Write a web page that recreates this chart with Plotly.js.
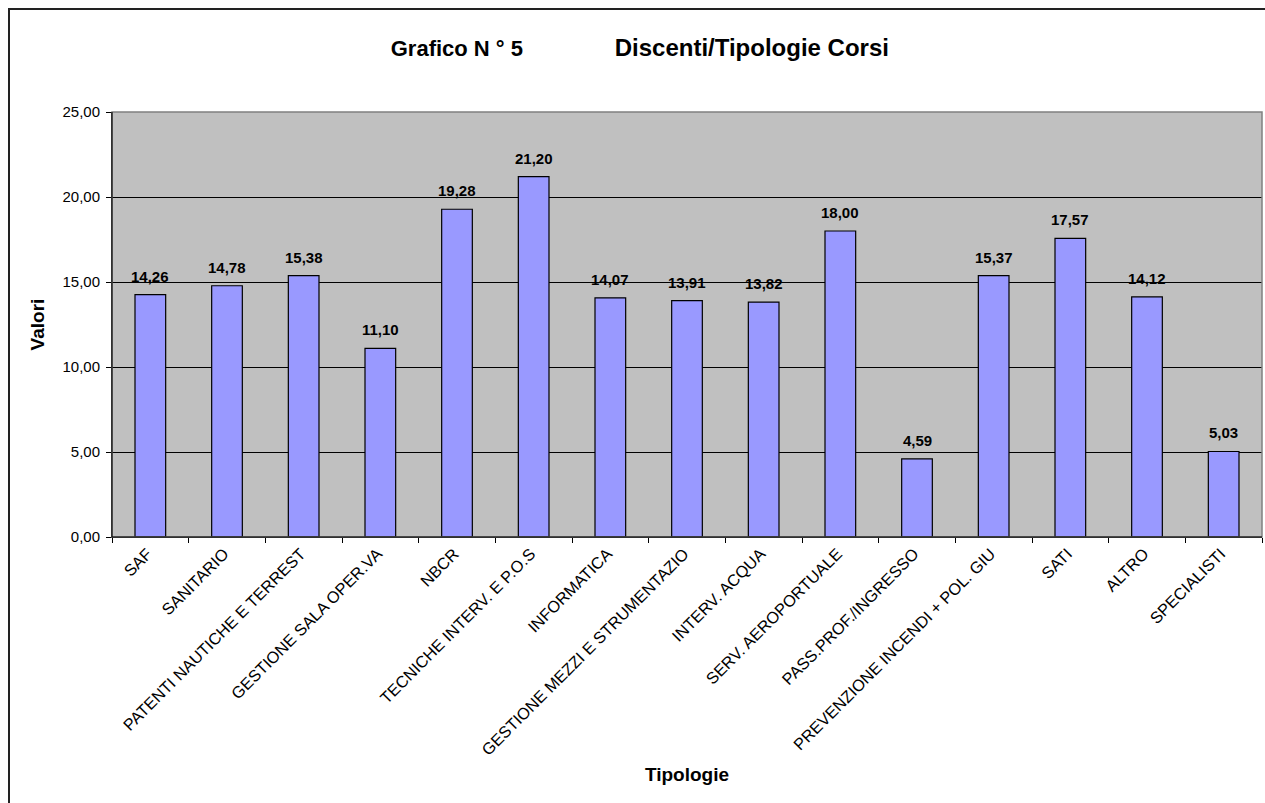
<!DOCTYPE html>
<html>
<head>
<meta charset="utf-8">
<script src="https://cdn.plot.ly/plotly-3.0.1.min.js"></script>
<style>
  html, body { margin: 0; padding: 0; background: #ffffff; }
  #chart { width: 1265px; height: 803px; }
</style>
</head>
<body>
<div id="chart"></div>
<script>
const categories = [
  "SAF",
  "SANITARIO",
  "PATENTI NAUTICHE E TERREST",
  "GESTIONE SALA OPER.VA",
  "NBCR",
  "TECNICHE INTERV. E P.O.S",
  "INFORMATICA",
  "GESTIONE MEZZI E STRUMENTAZIO",
  "INTERV. ACQUA",
  "SERV. AEROPORTUALE",
  "PASS.PROF./INGRESSO",
  "PREVENZIONE INCENDI + POL. GIU",
  "SATI",
  "ALTRO",
  "SPECIALISTI"
];
const valori = [14.26, 14.78, 15.38, 11.10, 19.28, 21.20, 14.07, 13.91, 13.82, 18.00, 4.59, 15.37, 17.57, 14.12, 5.03];
const yTickValues = [0, 5, 10, 15, 20, 25];

const FONT = '"Liberation Sans", Arial, Helvetica, sans-serif';
const fmt = v => v.toFixed(2).replace('.', ',');
const NB = '\u00A0';

const trace = {
  type: 'bar',
  x: categories,
  y: valori,
  marker: { color: '#9999FF', line: { color: '#000000', width: 1.2 } },
  hoverinfo: 'x+y'
};

const labelAnnotations = categories.map((c, i) => ({
  x: c, y: valori[i], xref: 'x', yref: 'y',
  text: '<b>' + fmt(valori[i]) + '</b>',
  showarrow: false, yanchor: 'bottom', yshift: 8,
  font: { family: FONT, size: 15, color: '#000' }
}));

const layout = {
  width: 1265, height: 803,
  margin: { l: 112, r: 3, t: 112, b: 266, pad: 0 },
  paper_bgcolor: '#ffffff',
  plot_bgcolor: '#C0C0C0',
  separators: ',.',
  font: { family: FONT, color: '#000' },
  showlegend: false,
  bargap: 0.6,
  title: {
    text: '<b>Grafico N' + NB + '°' + NB + '5' + NB.repeat(15) +
          '<span style="font-size:24px">Discenti/Tipologie Corsi</span></b>',
    font: { family: FONT, size: 22, color: '#000' },
    x: 0.459, xref: 'paper', xanchor: 'center',
    y: 1 - 48 / 803, yref: 'container', yanchor: 'middle'
  },
  xaxis: {
    type: 'category',
    tickangle: -45,
    tickson: 'boundaries',
    ticks: 'outside', ticklen: 5, tickcolor: '#000', tickwidth: 1,
    ticklabelshift: -3,
    showline: true, linecolor: '#000', linewidth: 1,
    showgrid: false,
    tickfont: { family: FONT, size: 16.3, color: '#000' },
    title: { text: '<b>Tipologie</b>', font: { family: FONT, size: 19, color: '#000' }, standoff: 10 },
    automargin: false
  },
  yaxis: {
    range: [0, 25],
    tickvals: yTickValues,
    tickformat: '.2f',
    ticks: 'outside', ticklen: 5, tickcolor: '#000', tickwidth: 1,
    ticklabelstandoff: 3,
    showline: true, linecolor: '#000', linewidth: 1,
    showgrid: true, gridcolor: '#000000', gridwidth: 1,
    zeroline: false,
    tickfont: { family: FONT, size: 15, color: '#000' },
    title: { text: '<b>Valori</b>', font: { family: FONT, size: 19, color: '#000' }, standoff: 12 },
    automargin: false
  },
  shapes: [
    { type: 'rect', xref: 'paper', yref: 'paper', x0: 0, x1: 1, y0: 0, y1: 1,
      line: { color: '#808080', width: 1.5 }, layer: 'above' },
    { type: 'line', xref: 'paper', yref: 'paper', x0: 0, x1: 0, y0: 0, y1: 1,
      line: { color: '#000', width: 1 }, layer: 'above' },
    { type: 'line', xref: 'paper', yref: 'paper', x0: 0, x1: 1, y0: 0, y1: 0,
      line: { color: '#000', width: 1 }, layer: 'above' },
    { type: 'rect', xref: 'paper', yref: 'paper',
      x0: (9 - 112) / 1150, x1: (1275 - 112) / 1150,
      y0: (537 - 820) / 425, y1: (537 - 9) / 425,
      line: { color: '#222222', width: 2 }, layer: 'below' }
  ],
  annotations: labelAnnotations
};

Plotly.newPlot('chart', [trace], layout, { displayModeBar: false, staticPlot: true });
</script>
</body>
</html>
